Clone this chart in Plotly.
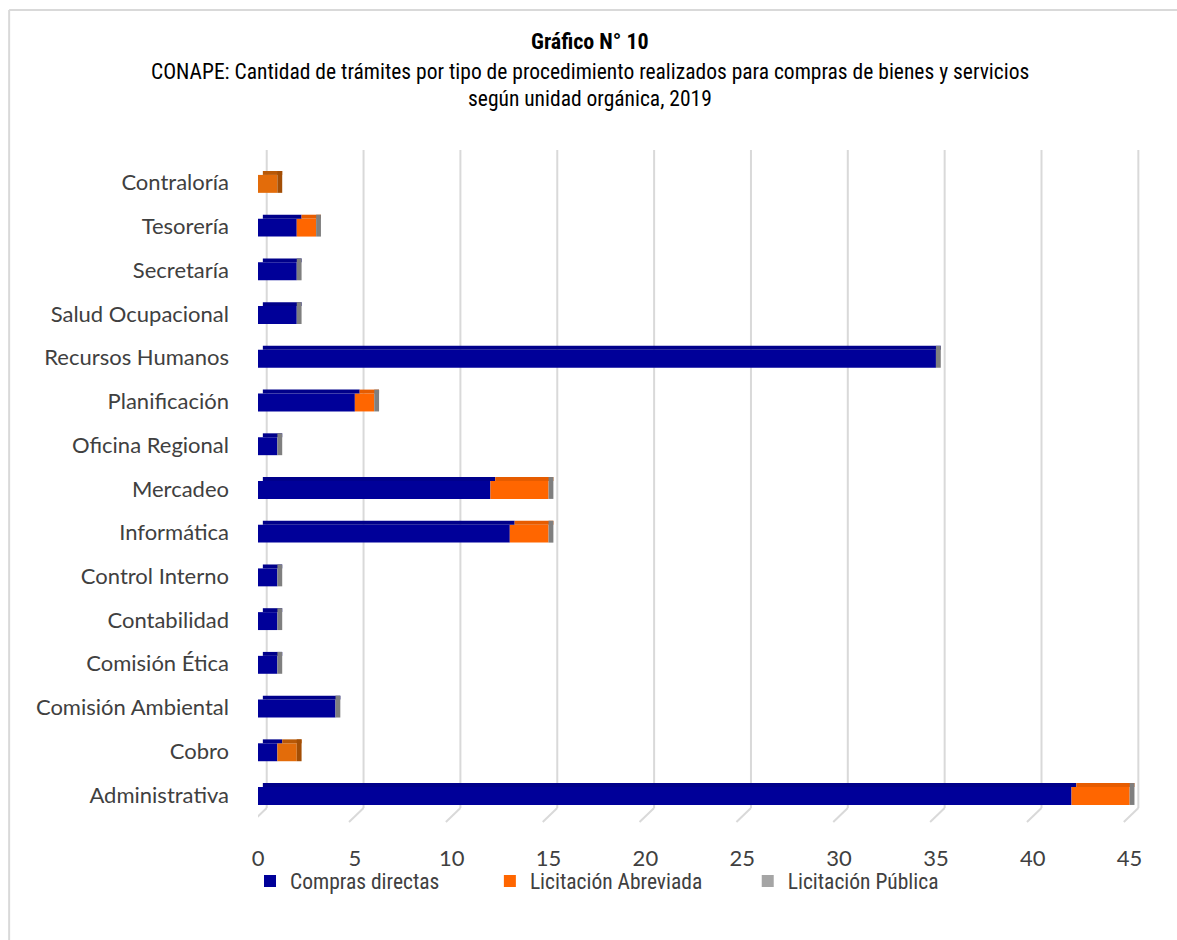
import plotly.graph_objects as go

# ---------------- data (bottom-to-top order, as in the chart) ----------------
categories = ["Administrativa", "Cobro", "Comisión Ambiental", "Comisión Ética",
              "Contabilidad", "Control Interno", "Informática", "Mercadeo",
              "Oficina Regional", "Planificación", "Recursos Humanos",
              "Salud Ocupacional", "Secretaría", "Tesorería", "Contraloría"]
compras_directas = [42, 1, 4, 1, 1, 1, 13, 12, 1, 5, 35, 2, 2, 2, 0]
licitacion_abreviada = [3, 1, 0, 0, 0, 0, 2, 3, 0, 1, 0, 0, 0, 1, 1]
licitacion_publica = [0, None, 0, 0, 0, 0, 0, 0, 0, 0, 0, 0, 0, 0, None]
x_ticks = [0, 5, 10, 15, 20, 25, 30, 35, 40, 45]

series_names = ["Compras directas", "Licitación Abreviada", "Licitación Pública"]

# ---------------- styling ----------------
BLUE, BLUE_TOP = "#000099", "#00008A"
ORANGE, ORANGE_TOP = "#FF6600", "#E65C00"
ORANGE_END, ORANGE_END_TOP = "#E36C0A", "#B85806"
GRAY = "#A5A5A5"
TIP_GRAY = "#7F7F7F"
TIP_ORANGE = "#A34E05"
GRID = "#D9D9D9"
LABEL = "#404040"
CAT_FONT = "Lato, Calibri, Carlito, sans-serif"
NARROW = "Liberation Sans Narrow, Arial Narrow, Roboto Condensed, Liberation Sans, Arial, sans-serif"

W, H = 1177, 940
X0_PX = 258
PX_PER_UNIT = 19.38
XMAX = 46.0
PLOT_R_PX = X0_PX + XMAX * PX_PER_UNIT
PLOT_T, PLOT_B = 150, 822
BACK_DX = 0.45      # 3-D back-plane offset (axis units)
BACK_DY_PX = 14     # 3-D back-plane offset (pixels)
DEPTH = 0.25        # visual depth of the 3-D bar end face
FRONT_OFF, FRONT_W = -0.23, 0.41
TOP_OFF, TOP_W = 0.18, 0.09

def px_to_paper_x(px):
    return (px - X0_PX) / (PLOT_R_PX - X0_PX)

def px_to_paper_y(py):
    return (PLOT_B - py) / (PLOT_B - PLOT_T)

n = len(categories)
pub_vals = [p if p is not None else 0 for p in licitacion_publica]
base_abrev = list(compras_directas)
base_pub = [c + a for c, a in zip(compras_directas, licitacion_abreviada)]
totals = [b + p for b, p in zip(base_pub, pub_vals)]

orange_colors = [ORANGE_END if p is None else ORANGE for p in licitacion_publica]
orange_top_colors = [ORANGE_END_TOP if p is None else ORANGE_TOP for p in licitacion_publica]
tip_colors = [TIP_ORANGE if p is None else TIP_GRAY for p in licitacion_publica]

fig = go.Figure()
common = dict(y=categories, orientation="h")

# front faces
fig.add_trace(go.Bar(**common, x=compras_directas, base=[0] * n,
                     offset=FRONT_OFF, width=FRONT_W,
                     name=series_names[0], marker=dict(color=BLUE, line=dict(width=0)),
                     legend="legend"))
fig.add_trace(go.Bar(**common, x=licitacion_abreviada, base=base_abrev,
                     offset=FRONT_OFF, width=FRONT_W,
                     name=series_names[1], marker=dict(color=orange_colors, line=dict(width=0)),
                     legend="legend2"))
fig.add_trace(go.Bar(**common, x=pub_vals, base=base_pub,
                     offset=FRONT_OFF, width=FRONT_W,
                     name=series_names[2], marker=dict(color=GRAY, line=dict(width=0)),
                     legend="legend3"))
# top faces (3-D look)
fig.add_trace(go.Bar(**common, x=compras_directas, base=[DEPTH] * n,
                     offset=TOP_OFF, width=TOP_W, showlegend=False, hoverinfo="skip",
                     marker=dict(color=BLUE_TOP, line=dict(width=0))))
fig.add_trace(go.Bar(**common, x=licitacion_abreviada, base=[b + DEPTH for b in base_abrev],
                     offset=TOP_OFF, width=TOP_W, showlegend=False, hoverinfo="skip",
                     marker=dict(color=orange_top_colors, line=dict(width=0))))
# end faces
fig.add_trace(go.Bar(**common, x=[DEPTH] * n, base=totals,
                     offset=FRONT_OFF, width=FRONT_W + TOP_W, showlegend=False, hoverinfo="skip",
                     marker=dict(color=tip_colors, line=dict(width=0))))

shapes = []
# 3-D style gridlines: vertical on the back plane, diagonal on the floor
for v in x_ticks:
    shapes.append(dict(type="line", xref="x", yref="paper",
                       x0=v + BACK_DX, y0=1, x1=v + BACK_DX, y1=px_to_paper_y(PLOT_B - BACK_DY_PX),
                       line=dict(color=GRID, width=2), layer="below"))
    shapes.append(dict(type="line", xref="x", yref="paper",
                       x0=v + BACK_DX, y0=px_to_paper_y(PLOT_B - BACK_DY_PX), x1=v - 0.3, y1=0,
                       line=dict(color=GRID, width=2), layer="below"))
# outer chart border (top and left edges visible)
shapes.append(dict(type="line", xref="paper", yref="paper",
                   x0=px_to_paper_x(9), y0=px_to_paper_y(10),
                   x1=px_to_paper_x(1200), y1=px_to_paper_y(10),
                   line=dict(color=GRID, width=2)))
shapes.append(dict(type="line", xref="paper", yref="paper",
                   x0=px_to_paper_x(9), y0=px_to_paper_y(10),
                   x1=px_to_paper_x(9), y1=px_to_paper_y(960),
                   line=dict(color=GRID, width=2)))

TITLE_SIZE = 21.5
annotations = [
    dict(text="<b>Gráfico N° 10</b>", x=px_to_paper_x(590), y=px_to_paper_y(41),
         xref="paper", yref="paper", showarrow=False, xanchor="center", yanchor="middle",
         font=dict(family=NARROW, size=TITLE_SIZE + 0.5, color="#000000")),
    dict(text="CONAPE: Cantidad de trámites por tipo de procedimiento realizados para compras de bienes y servicios",
         x=px_to_paper_x(590), y=px_to_paper_y(71),
         xref="paper", yref="paper", showarrow=False, xanchor="center", yanchor="middle",
         font=dict(family=NARROW, size=TITLE_SIZE, color="#000000")),
    dict(text="según unidad orgánica, 2019", x=px_to_paper_x(590), y=px_to_paper_y(98),
         xref="paper", yref="paper", showarrow=False, xanchor="center", yanchor="middle",
         font=dict(family=NARROW, size=TITLE_SIZE, color="#000000")),
]

legend_common = dict(orientation="h", yanchor="middle", xanchor="left",
                     bgcolor="rgba(0,0,0,0)", tracegroupgap=0, itemsizing="constant",
                     font=dict(family=NARROW, size=21.5, color=LABEL))

fig.update_layout(
    width=W, height=H,
    barmode="overlay",
    plot_bgcolor="white", paper_bgcolor="white",
    margin=dict(l=X0_PX, r=W - PLOT_R_PX, t=PLOT_T, b=H - PLOT_B, pad=0),
    shapes=shapes,
    annotations=annotations,
    legend=dict(**legend_common, x=px_to_paper_x(250), y=px_to_paper_y(881)),
    legend2=dict(**legend_common, x=px_to_paper_x(490), y=px_to_paper_y(881)),
    legend3=dict(**legend_common, x=px_to_paper_x(748), y=px_to_paper_y(881)),
    xaxis=dict(range=[0, XMAX], tickvals=x_ticks, showgrid=False,
               zeroline=False, showline=False,
               ticks="", ticklabelstandoff=21,
               tickfont=dict(family=CAT_FONT, size=22, color=LABEL)),
    yaxis=dict(type="category", categoryorder="array", categoryarray=categories,
               range=[-0.62, 14.75], showgrid=False, zeroline=False, showline=False,
               ticks="", ticklabelstandoff=28,
               tickfont=dict(family=CAT_FONT, size=22, color=LABEL)),
)

fig.write_html("out.html")
